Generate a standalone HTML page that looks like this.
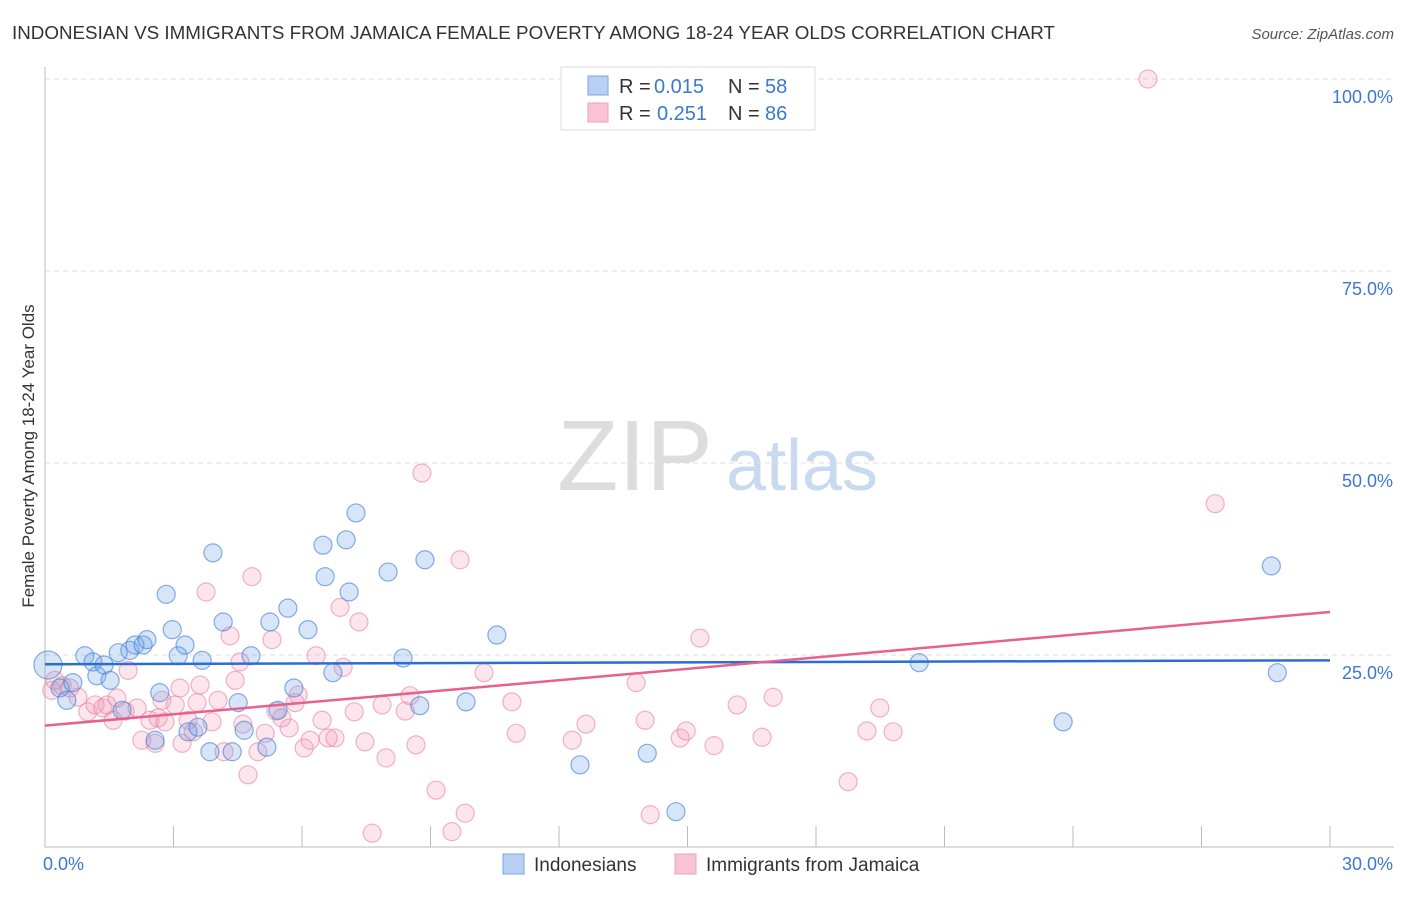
<!DOCTYPE html>
<html><head><meta charset="utf-8"><style>
body{margin:0;background:#fff;font-family:"Liberation Sans",sans-serif;}
svg text{font-family:"Liberation Sans",sans-serif;}
</style></head><body>
<svg id="chart" width="1406" height="892" xmlns="http://www.w3.org/2000/svg">
<text x="12" y="39" font-size="18" fill="#333" textLength="1043" lengthAdjust="spacingAndGlyphs">INDONESIAN VS IMMIGRANTS FROM JAMAICA FEMALE POVERTY AMONG 18-24 YEAR OLDS CORRELATION CHART</text>
<text x="1394" y="39" font-size="15" fill="#555" text-anchor="end" font-style="italic">Source: ZipAtlas.com</text>
<text transform="translate(34,456) rotate(-90)" font-size="17" fill="#333" text-anchor="middle">Female Poverty Among 18-24 Year Olds</text>
<g>
<text x="635" y="490" font-size="100" fill="#ddd" font-family="Liberation Serif" text-anchor="middle">ZIP</text>
<text x="802" y="490" font-size="72" fill="#c8d9f0" text-anchor="middle">atlas</text>
</g>
<g id="grid"></g>
<g id="ticks"></g>
<g id="pts"></g>
<g id="lines"></g>
<g>
<rect x="561" y="67" width="254" height="63" fill="#fff" stroke="#ddd"/>
<rect x="588" y="76" width="20" height="19" fill="#b8d0f2" stroke="#7aa6e0"/>
<rect x="588" y="103" width="20" height="19" fill="#f8c4d4" stroke="#eea0b8"/>
<text y="93" font-size="20" fill="#333"><tspan x="619">R =</tspan><tspan x="654" fill="#3b78d0">0.015</tspan><tspan x="728">N =</tspan><tspan x="765" fill="#3b78d0">58</tspan></text>
<text y="120" font-size="20" fill="#333"><tspan x="619">R =</tspan><tspan x="657" fill="#3b78d0">0.251</tspan><tspan x="728">N =</tspan><tspan x="765" fill="#3b78d0">86</tspan></text>
</g>
<g>
<rect x="503" y="854" width="21" height="20" fill="#b8d0f2" stroke="#7aa6e0"/>
<text x="534" y="871" font-size="19" fill="#333">Indonesians</text>
<rect x="675" y="854" width="21" height="20" fill="#f8c4d4" stroke="#eea0b8"/>
<text x="706" y="871" font-size="19" fill="#333">Immigrants from Jamaica</text>
</g>
</svg>
<script>
const blueX=[0.07,0.35,0.51,0.65,0.93,1.12,1.21,1.38,1.52,1.71,1.80,1.98,2.10,2.29,2.38,2.57,2.68,2.83,2.97,3.11,3.27,3.34,3.57,3.67,3.85,3.92,4.16,4.37,4.51,4.65,4.81,5.18,5.25,5.44,5.67,5.81,6.14,6.49,6.54,6.72,7.03,7.10,7.26,8.01,8.36,8.75,8.87,9.83,10.55,12.49,14.06,14.73,20.41,23.77,28.63,28.77];
const blueY=[23.7,20.7,19.1,21.4,24.9,24.1,22.3,23.7,21.7,25.3,17.8,25.6,26.3,26.3,27.0,13.9,20.1,32.9,28.3,24.9,26.3,15.0,15.6,24.3,12.4,38.3,29.3,12.4,18.8,15.2,24.9,13.0,29.3,17.8,31.1,20.7,28.3,39.3,35.2,22.7,40.0,33.2,43.5,35.8,24.6,18.4,37.4,18.9,27.6,10.7,12.2,4.6,24.0,16.3,36.6,22.7];
const pinkX=[0.16,0.23,0.40,0.58,0.77,1.00,1.17,1.35,1.45,1.59,1.68,1.87,1.94,2.15,2.26,2.45,2.57,2.64,2.73,2.80,3.04,3.15,3.20,3.34,3.46,3.55,3.62,3.76,3.90,4.04,4.18,4.32,4.44,4.55,4.62,4.74,4.83,4.97,5.14,5.30,5.39,5.53,5.70,5.84,5.91,6.05,6.19,6.33,6.47,6.61,6.77,6.89,6.96,7.22,7.33,7.47,7.64,7.87,7.96,8.41,8.52,8.66,8.80,9.13,9.50,9.69,9.81,10.25,10.90,11.00,12.31,12.63,13.80,14.01,14.13,14.83,14.97,15.29,15.62,16.16,16.74,17.00,18.75,19.19,19.49,19.80,25.75,27.32];
const pinkY=[20.4,21.7,21.0,20.7,19.5,17.6,18.5,18.1,18.5,16.5,19.4,17.7,23.0,18.1,13.9,16.5,13.5,16.8,19.1,16.3,18.5,20.7,13.5,16.5,15.0,18.8,21.1,33.2,16.3,19.1,12.4,27.5,21.7,24.1,16.0,9.4,35.2,12.4,14.8,27.0,17.7,16.8,15.5,18.8,19.8,12.9,13.9,24.9,16.5,14.2,14.2,31.2,23.4,17.6,29.3,13.7,1.8,18.5,11.6,17.7,19.7,13.3,48.7,7.4,2.0,37.4,4.4,22.7,18.9,14.8,13.9,16.0,21.4,16.5,4.2,14.2,15.1,27.2,13.2,18.5,14.3,19.5,8.5,15.1,18.1,15.0,100,44.7];
const blueTrend=[23.8,24.3];
const pinkTrend=[15.8,30.6];
const yTicks=[25,50,75,100];
const yTickLabels=["25.0%","50.0%","75.0%","100.0%"];
const xTickCount=10;
const xLabels=["0.0%","30.0%"];

const NS="http://www.w3.org/2000/svg";
const X0=45,X1=1330,Y0=847,PX=768;
const sx=v=>X0+(v/30)*(X1-X0);
const sy=v=>Y0-v/100*PX;
function mk(t,a,p){const e=document.createElementNS(NS,t);for(const k in a)e.setAttribute(k,a[k]);p.appendChild(e);return e;}
const grid=document.getElementById('grid'),ticks=document.getElementById('ticks'),pts=document.getElementById('pts'),lines=document.getElementById('lines');
yTicks.forEach((v,i)=>{
 const l=mk('line',{x1:X0,x2:1394,y1:sy(v),y2:sy(v),stroke:'#ddd','stroke-dasharray':'5,4'},grid);
 
 
 const t=mk('text',{x:1393,y:sy(v)+24,'font-size':18,fill:'#3b78d0','text-anchor':'end'},grid);
 t.textContent=yTickLabels[i];
 
 
});
const ax=mk('path',{d:`M${X0} 67V${Y0}H1394`,stroke:'#bbb',fill:'none'},ticks);


for(let i=1;i<=xTickCount;i++){
 const tk=mk('line',{x1:sx(i*3),x2:sx(i*3),y1:826,y2:Y0,stroke:'#bbb'},ticks);
 
 
}
[[X0-2,'start',0],[1393,'end',1]].forEach(([x,a,i])=>{
 const t=mk('text',{x:x,y:870,'font-size':18,fill:'#3b78d0','text-anchor':a},ticks);
 t.textContent=xLabels[i];
 
 
});
function series(X,Y,fill,stroke,name){
 X.forEach((x,i)=>{
  const c=mk('circle',{cx:sx(x),cy:sy(Y[i]),r:(name==='indonesian-point'&&i===0)?14:9,fill:fill,stroke:stroke,'stroke-width':1.2},pts);
  
  
 });
}
series(pinkX,pinkY,'rgba(242,150,180,0.25)','rgba(232,130,165,0.6)','jamaica-point');
series(blueX,blueY,'rgba(110,160,230,0.28)','rgba(70,130,215,0.65)','indonesian-point');
const bl=mk('line',{x1:sx(0),x2:sx(30),y1:sy(blueTrend[0]),y2:sy(blueTrend[1]),stroke:'#2a6dd4','stroke-width':2.5},lines);


const pl=mk('line',{x1:sx(0),x2:sx(30),y1:sy(pinkTrend[0]),y2:sy(pinkTrend[1]),stroke:'#e8608e','stroke-width':2.5},lines);


</script>
</body></html>
